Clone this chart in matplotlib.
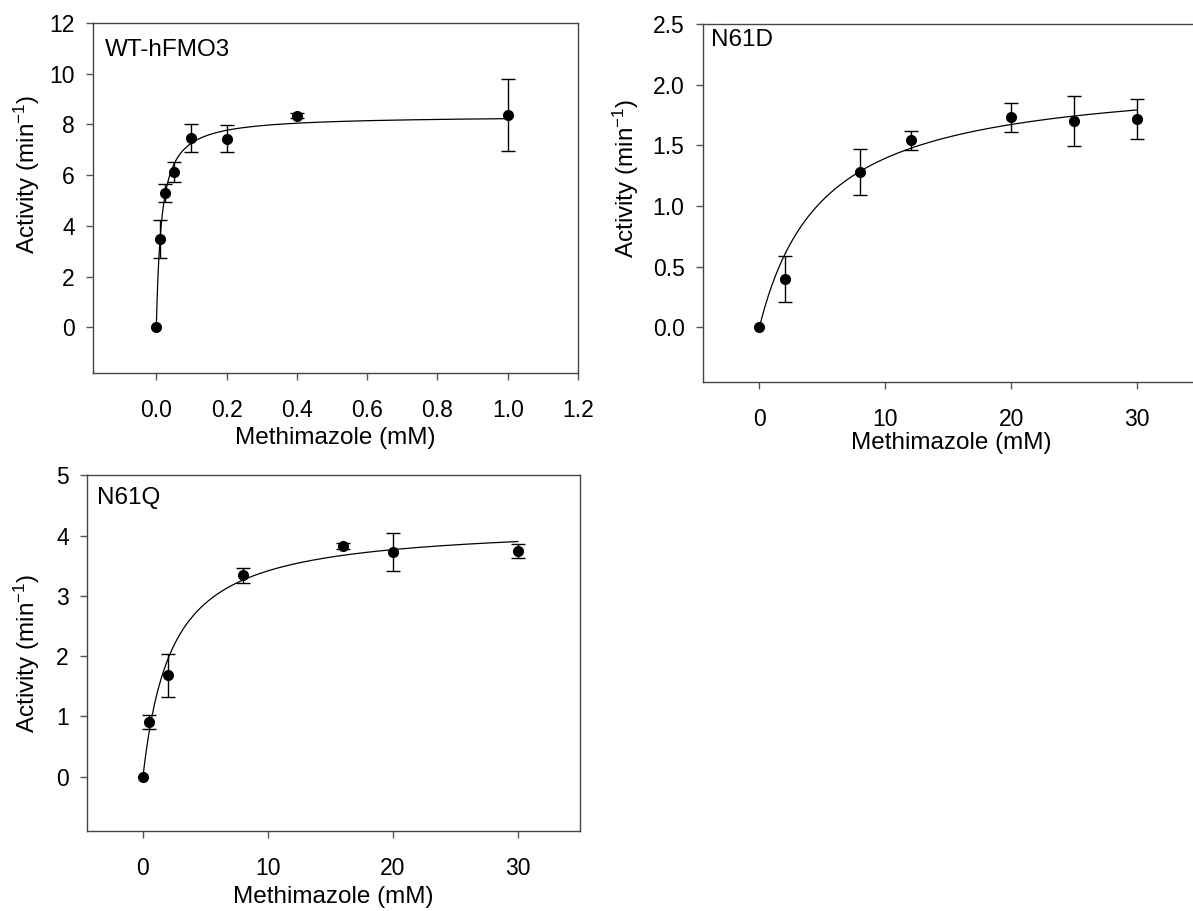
import numpy as np
import matplotlib
matplotlib.use("Agg")
import matplotlib.pyplot as plt

plt.rcParams['font.family'] = ['Liberation Sans', 'DejaVu Sans']
plt.rcParams['mathtext.fontset'] = 'custom'
plt.rcParams['mathtext.rm'] = 'Liberation Sans'
plt.rcParams['mathtext.it'] = 'Liberation Sans:italic'

# WT-hFMO3
wt_x = [0, 0.01, 0.025, 0.05, 0.1, 0.2, 0.4, 1.0]
wt_y = [0, 3.48, 5.30, 6.13, 7.47, 7.44, 8.35, 8.36]
wt_err = [0, 0.75, 0.36, 0.40, 0.55, 0.53, 0.10, 1.42]
wt_vmax, wt_km = 8.35, 0.015

# N61D
d_x = [0, 2, 8, 12, 20, 25, 30]
d_y = [0, 0.40, 1.28, 1.54, 1.73, 1.70, 1.72]
d_err = [0, 0.19, 0.19, 0.08, 0.12, 0.205, 0.165]
d_vmax, d_km = 2.09, 5.0

# N61Q
q_x = [0, 0.5, 2, 8, 16, 20, 30]
q_y = [0, 0.91, 1.68, 3.34, 3.83, 3.73, 3.74]
q_err = [0, 0.115, 0.36, 0.13, 0.05, 0.31, 0.12]
q_vmax, q_km = 4.2, 2.3

fig = plt.figure(figsize=(11.93, 9.11), dpi=100)

panels = [
    dict(rect=[0.0780, 0.5906, 0.4065, 0.3842], x=wt_x, y=wt_y, e=wt_err, vm=wt_vmax, km=wt_km,
         name='WT-hFMO3', xlim=(-0.18, 1.2), ylim=(-1.8, 12),
         xt=[0.0, 0.2, 0.4, 0.6, 0.8, 1.0, 1.2], yt=[0, 2, 4, 6, 8, 10, 12],
         xfmt='{:.1f}', yfmt='{:g}', tpos=(0.025, 0.953), ylc=(-0.105, 0.569), xlc=-0.154),
    dict(rect=[0.5890, 0.5807, 0.4171, 0.3930], x=d_x, y=d_y, e=d_err, vm=d_vmax, km=d_km,
         name='N61D', xlim=(-4.5, 35), ylim=(-0.45, 2.5),
         xt=[0, 10, 20, 30], yt=[0.0, 0.5, 1.0, 1.5, 2.0, 2.5],
         xfmt='{:g}', yfmt='{:.1f}', tpos=(0.016, 0.987), ylc=(-0.124, 0.57), xlc=-0.14),
    dict(rect=[0.0727, 0.0878, 0.4137, 0.3905], x=q_x, y=q_y, e=q_err, vm=q_vmax, km=q_km,
         name='N61Q', xlim=(-4.5, 35), ylim=(-0.9, 5),
         xt=[0, 10, 20, 30], yt=[0, 1, 2, 3, 4, 5],
         xfmt='{:g}', yfmt='{:g}', tpos=(0.02, 0.967), ylc=(-0.09, 0.5), xlc=-0.155),
]

for p in panels:
    ax = fig.add_axes(p['rect'])
    # Michaelis-Menten fit line
    xs = np.linspace(0, max(p['x']), 400)
    ax.plot(xs, p['vm'] * xs / (p['km'] + xs), color='black', lw=0.9)
    x = np.array(p['x'])
    y = np.array(p['y'])
    e = np.array(p['e'])
    has = e > 0
    ax.errorbar(x[has], y[has], yerr=e[has], fmt='none', ecolor='black',
                elinewidth=1, capsize=5, capthick=1)
    ax.plot(x, y, 'o', color='black', ms=7)
    ax.set_xlim(p['xlim'])
    ax.set_ylim(p['ylim'])
    ax.set_xticks(p['xt'])
    ax.set_xticklabels([p['xfmt'].format(v) for v in p['xt']])
    ax.set_yticks(p['yt'])
    ax.set_yticklabels([p['yfmt'].format(v) for v in p['yt']])
    ax.tick_params(direction='out', length=5, width=1, color='#555555',
                   labelsize=16.5, top=False, right=False)
    ax.tick_params(axis='x', pad=14)
    ax.tick_params(axis='y', pad=8)
    for s in ax.spines.values():
        s.set_color('#444444')
        s.set_linewidth(1)
    ax.set_xlabel('Methimazole (mM)', fontsize=17.5)
    ax.set_ylabel('Activity (min$^{-1}$)', fontsize=17.5)
    ax.xaxis.set_label_coords(0.5, p['xlc'])
    ax.yaxis.set_label_coords(*p['ylc'])
    ax.text(p['tpos'][0], p['tpos'][1], p['name'], transform=ax.transAxes,
            fontsize=17.5, va='top', ha='left')

fig.savefig('out.png', dpi=100)
